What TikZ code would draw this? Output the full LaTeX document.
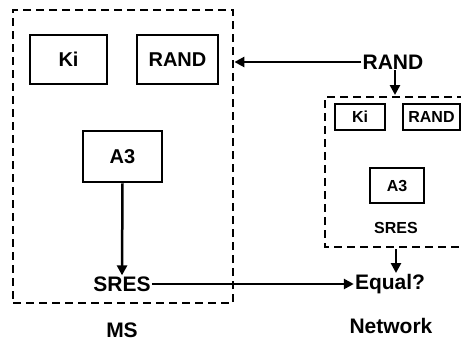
\documentclass[tikz,border=0pt]{standalone}
\usepackage{fontspec}
\setmainfont{Liberation Sans}
\usetikzlibrary{arrows.meta}

\tikzset{
    dashbox/.style={draw, line width=2.8pt, dash pattern=on 8pt off 5pt},
    keybox/.style={draw, line width=2.8pt, font=\fontsize{20}{24}\selectfont\bfseries},
    smallbox/.style={draw, line width=2.6pt, font=\fontsize{16}{19}\selectfont\bfseries},
    biglabel/.style={font=\fontsize{21}{25}\selectfont\bfseries, inner sep=1pt},
    sidelabel/.style={font=\fontsize{21}{25}\selectfont\bfseries},
    flow/.style={line width=2.5pt, -{Triangle[length=10pt,width=10pt]}}
}

\begin{document}
\begin{tikzpicture}[x=1pt, y=-1pt]
        \useasboundingbox (0,0) rectangle (461,341);
        % mobile station side
        \node[dashbox, minimum width=220pt, minimum height=293pt] (ms) at (123,156.5) {};
        \node[keybox, minimum width=77pt, minimum height=49pt] (kiA) at (68.5,59.5) {Ki};
        \node[keybox, minimum width=81pt, minimum height=49pt] (randA) at (177.5,59.5) {RAND};
        \node[keybox, minimum width=79pt, minimum height=51pt] (a3A) at (122.5,156.5) {A3};
        \node[biglabel] (sresA) at (122,284) {SRES};
        \node[sidelabel] (msLabel) at (122,330) {MS};
        % network side
        \node[biglabel] (randNet) at (393,62) {RAND};
        \coordinate (netTL) at (325,97);
        \coordinate (netBL) at (325,247);
        \draw[dashbox] (465,97) -- (netTL) -- (netBL) -- (465,247);
        \node[smallbox, minimum width=50pt, minimum height=26pt] (kiB) at (360,117) {Ki};
        \node[smallbox, minimum width=57pt, minimum height=26pt, inner sep=1pt] (randB) at (431.5,117) {RAND};
        \node[smallbox, minimum width=54pt, minimum height=35pt] (a3B) at (397,185.5) {A3};
        \node[font=\fontsize{16}{19}\selectfont\bfseries] (sresB) at (396,228) {SRES};
        \node[biglabel] (equal) at (390,284) {Equal?};
        \node[sidelabel] (netLabel) at (391,326) {Network};
        \coordinate (netTop) at (395,95);
        \coordinate (netBot) at (396,249);
        % connectors
        \draw[flow] (randNet.west) -- (ms.east |- randNet.west);
        \draw[flow] (randNet.south -| netTop) -- (netTop);
        \draw[flow] (netBot) -- (netBot |- equal.north);
        \draw[flow] (a3A.south) -- (sresA.north);
        \draw[flow] (sresA.east) -- (equal.west);
    \end{tikzpicture}
\end{document}
